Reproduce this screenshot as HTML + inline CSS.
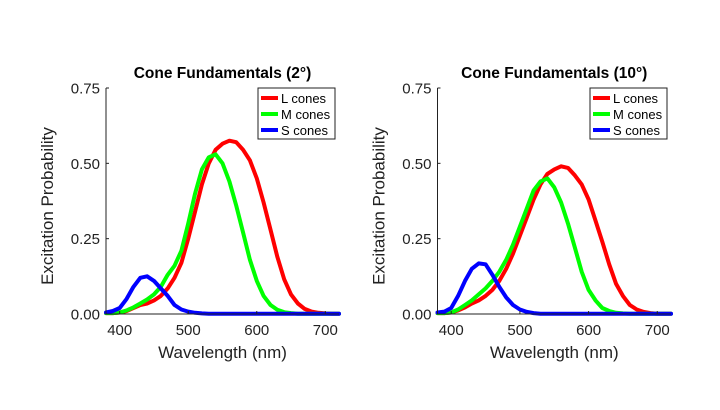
<!DOCTYPE html>
<html><head><meta charset="utf-8"><style>
body{margin:0;background:#fff;}
svg text{font-family:"Liberation Sans",sans-serif;fill:#222;}
</style></head><body>
<svg id="chart" width="720" height="405"></svg>
<script>
const wavelengths=[380,390,400,410,420,430,440,450,460,470,480,490,500,510,520,530,540,550,560,570,580,590,600,610,620,630,640,650,660,670,680,690,700,710,720];
const L2=[0.003,0.003,0.005,0.01,0.02,0.03,0.035,0.045,0.06,0.085,0.12,0.17,0.25,0.34,0.43,0.5,0.545,0.565,0.575,0.57,0.545,0.51,0.45,0.37,0.28,0.19,0.115,0.065,0.035,0.017,0.008,0.004,0.002,0.001,0.001];
const M2=[0.003,0.003,0.005,0.012,0.022,0.035,0.048,0.065,0.09,0.13,0.16,0.21,0.3,0.4,0.48,0.52,0.53,0.5,0.44,0.36,0.27,0.18,0.11,0.06,0.03,0.014,0.006,0.003,0.001,0.001,0.001,0.001,0.001,0.001,0.001];
const S2=[0.005,0.01,0.02,0.05,0.09,0.12,0.125,0.11,0.085,0.06,0.03,0.015,0.008,0.004,0.002,0.001,0.001,0.001,0.001,0.001,0.001,0.001,0.001,0.001,0.001,0.001,0.001,0.001,0.001,0.001,0.001,0.001,0.001,0.001,0.001];
const L10=[0.003,0.003,0.005,0.012,0.022,0.035,0.045,0.06,0.08,0.11,0.15,0.2,0.26,0.32,0.38,0.43,0.465,0.48,0.49,0.485,0.46,0.43,0.38,0.31,0.24,0.165,0.1,0.06,0.03,0.015,0.007,0.003,0.001,0.001,0.001];
const M10=[0.003,0.003,0.005,0.015,0.03,0.045,0.065,0.085,0.11,0.14,0.18,0.23,0.29,0.35,0.41,0.44,0.45,0.42,0.37,0.3,0.22,0.14,0.08,0.045,0.02,0.01,0.004,0.002,0.001,0.001,0.001,0.001,0.001,0.001,0.001];
const S10=[0.005,0.008,0.02,0.06,0.11,0.15,0.168,0.165,0.13,0.09,0.055,0.03,0.015,0.007,0.003,0.001,0.001,0.001,0.001,0.001,0.001,0.001,0.001,0.001,0.001,0.001,0.001,0.001,0.001,0.001,0.001,0.001,0.001,0.001,0.001];
const xTicks=[400,500,600,700];
const yTicks=[0,0.25,0.5,0.75];
const yTickLabels=["0.00","0.25","0.50","0.75"];
const seriesNames=["L cones","M cones","S cones"];
const colors=["#ff0000","#00ff00","#0000ff"];

const NS="http://www.w3.org/2000/svg";
const svg=document.getElementById('chart');
function mk(tag,attrs,parent){const e=document.createElementNS(NS,tag);for(const k in attrs)e.setAttribute(k,attrs[k]);(parent||svg).appendChild(e);return e;}

function panel(x0,x1,title,series,key){
  const y0=314,yTop=88;
  const g=mk('g',{});
  
  
  const sx=v=>x0+(v-380)/(720-380)*(x1-x0);
  const sy=v=>y0-(v/0.75)*(y0-yTop);
  const t=mk('text',{x:(x0+x1)/2,y:78,'text-anchor':'middle','font-size':15.5,'font-weight':'bold',fill:'#000'},g);
  t.textContent=title;t.style.fill='#000';
  
  
  series.forEach((s,i)=>{
    const pts=wavelengths.map((w,j)=>sx(w).toFixed(1)+','+sy(s[j]).toFixed(1)).join(' ');
    const p=mk('polyline',{points:pts,fill:'none',stroke:colors[i],'stroke-width':4,'stroke-linejoin':'round','stroke-linecap':'round'},g);
    
    
  });
  const ax=mk('path',{d:`M${x0},${yTop} V${y0} H${x1}`,fill:'none',stroke:'#222','stroke-width':1},g);
  
  
  yTicks.forEach((v,i)=>{
    mk('line',{x1:x0,x2:x0+3,y1:sy(v),y2:sy(v),stroke:'#222'},g);
    const tl=mk('text',{x:x0-6,y:sy(v)+5.5,'text-anchor':'end','font-size':15},g);
    tl.textContent=yTickLabels[i];
    
    
  });
  xTicks.forEach(v=>{
    mk('line',{x1:sx(v),x2:sx(v),y1:y0,y2:y0-3,stroke:'#222'},g);
    const tl=mk('text',{x:sx(v),y:y0+21,'text-anchor':'middle','font-size':15},g);
    tl.textContent=v;
    
    
  });
  const xl=mk('text',{x:(x0+x1)/2,y:358,'text-anchor':'middle','font-size':17},g);
  xl.textContent='Wavelength (nm)';
  
  
  const yl=mk('text',{x:0,y:0,'text-anchor':'middle','font-size':17,transform:`translate(${x0-53},${(y0+yTop)/2+5}) rotate(-90)`},g);
  yl.textContent='Excitation Probability';
  
  
  const lg=mk('g',{},g);
  
  
  const lx=x1-81,ly=88;
  mk('rect',{x:lx,y:ly,width:77,height:51,fill:'#fff',stroke:'#222','stroke-width':1},lg);
  seriesNames.forEach((n,i)=>{
    const yy=ly+10+i*16;
    const ln=mk('line',{x1:lx+3,x2:lx+20,y1:yy,y2:yy,stroke:colors[i],'stroke-width':4},lg);
    
    
    const tx=mk('text',{x:lx+23,y:yy+5,'font-size':13},lg);
    tx.textContent=n;tx.style.fill='#000';
    
    
  });
}
panel(106,339,'Cone Fundamentals (2°)',[L2,M2,S2],'left');
panel(437.5,671,'Cone Fundamentals (10°)',[L10,M10,S10],'right');
</script>
</body></html>
